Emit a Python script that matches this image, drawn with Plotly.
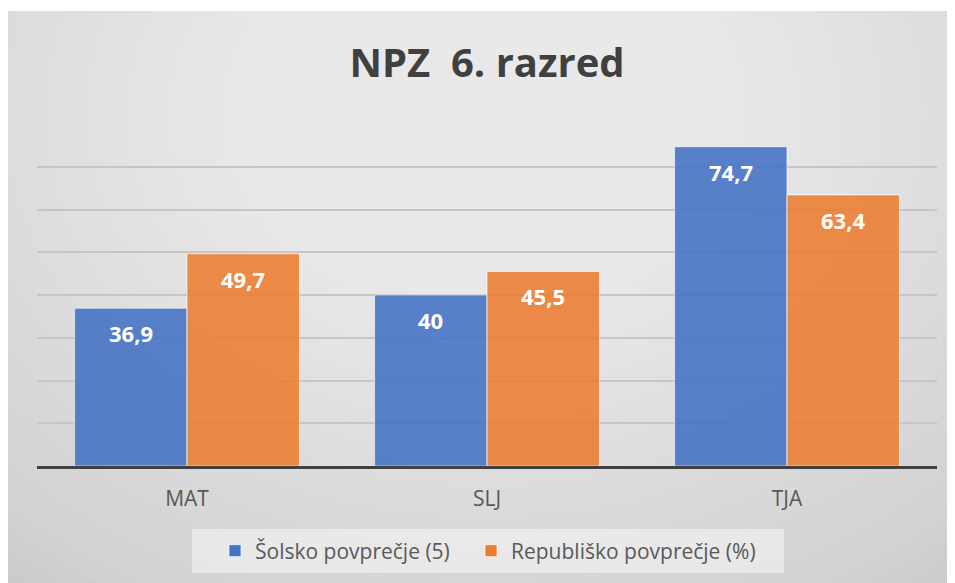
import plotly.graph_objects as go

categories = ["MAT", "SLJ", "TJA"]
school_avg = [36.9, 40, 74.7]
national_avg = [49.7, 45.5, 63.4]
series_names = ["Šolsko povprečje (5)", "Republiško povprečje (%)"]
title_text = "NPZ  6. razred"

# page body has an 8px margin, so the figure is 8px smaller than the window
W, H = 947, 575
L, R, T, B = 29, 18, 116, 117
PW, PH = W - L - R, H - T - B


def px(x):
    return (x - L) / PW


def py(y):
    return (H - B - y) / PH


def fmt(v):
    return f"{v:g}".replace(".", ",")


FONT = "Open Sans"

fig = go.Figure()
fig.add_trace(go.Bar(
    x=categories, y=school_avg, name=series_names[0], legend="legend",
    marker=dict(color="#4472C4", opacity=0.88,
                line=dict(color="rgba(255,255,255,0.6)", width=1.2)),
    hoverinfo="x+y",
))
fig.add_trace(go.Bar(
    x=categories, y=national_avg, name=series_names[1], legend="legend2",
    marker=dict(color="#ED7D31", opacity=0.88,
                line=dict(color="rgba(255,255,255,0.6)", width=1.2)),
    hoverinfo="x+y",
))

# background: grey panel with a soft light centre
shapes = [dict(type="rect", xref="paper", yref="paper", layer="below",
               x0=px(0), x1=px(W), y0=py(H), y1=py(3),
               fillcolor="#c6c6c6", line=dict(width=0))]
cx, cy = 477, 105
N = 34
for i in range(N):
    rx = 800 - i * 20
    ry = 620 - i * 15.5
    shapes.append(dict(type="circle", xref="paper", yref="paper", layer="below",
                       x0=px(cx - rx), x1=px(cx + rx), y0=py(cy + ry), y1=py(cy - ry),
                       fillcolor="white", opacity=0.042, line=dict(width=0)))
# white strip above the grey panel
shapes.append(dict(type="rect", xref="paper", yref="paper", layer="below",
                   x0=px(-20), x1=px(W + 20), y0=py(3), y1=py(-20),
                   fillcolor="white", line=dict(width=0)))
# legend box
shapes.append(dict(type="rect", xref="paper", yref="paper", layer="below",
                   x0=px(184), x1=px(776), y0=py(565), y1=py(521),
                   fillcolor="rgba(255,255,255,0.45)", line=dict(width=0)))

annotations = []
for c, v in zip(categories, school_avg):
    annotations.append(dict(x=c, y=v, xref="x", yref="y", text=fmt(v), showarrow=False,
                            xshift=-56.25, yshift=-25, yanchor="middle",
                            font=dict(family=FONT, size=22, color="white", weight="bold")))
for c, v in zip(categories, national_avg):
    annotations.append(dict(x=c, y=v, xref="x", yref="y", text=fmt(v), showarrow=False,
                            xshift=56.25, yshift=-25, yanchor="middle",
                            font=dict(family=FONT, size=22, color="white", weight="bold")))

legend_style = dict(orientation="h", xanchor="left", y=py(543), yanchor="middle",
                    bgcolor="rgba(0,0,0,0)",
                    font=dict(family=FONT, size=21, color="#595959"))

fig.update_layout(
    width=W, height=H,
    margin=dict(l=L, r=R, t=T, b=B, pad=0),
    paper_bgcolor="white",
    plot_bgcolor="rgba(0,0,0,0)",
    barmode="group", bargap=0.25, bargroupgap=0,
    title=dict(text=title_text, x=0.5, xanchor="center", xref="paper",
               y=1 - 55 / H, yref="container", yanchor="middle",
               font=dict(family=FONT, size=40, color="#404040", weight="bold")),
    xaxis=dict(showgrid=False, showline=True, linecolor="#404040", linewidth=3,
               ticks="outside", ticklen=12, tickcolor="rgba(0,0,0,0)",
               tickfont=dict(family=FONT, size=21, color="#595959")),
    yaxis=dict(range=[0, 80], dtick=10, showgrid=True, gridcolor="#c6c6c6", gridwidth=2,
               zeroline=False, showticklabels=False, ticks=""),
    legend=dict(x=px(207), **legend_style),
    legend2=dict(x=px(463), **legend_style),
    shapes=shapes,
    annotations=annotations,
    showlegend=True,
)

fig.write_html("out.html")
